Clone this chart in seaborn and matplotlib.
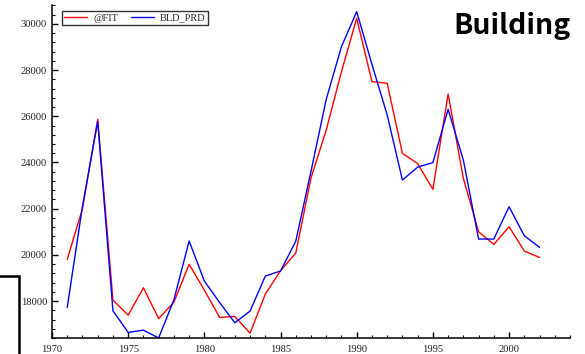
import matplotlib
matplotlib.use("Agg")
import matplotlib.pyplot as plt
from matplotlib.patches import Rectangle
from matplotlib.ticker import MultipleLocator
import seaborn as sns
import pandas as pd

years = list(range(1971, 2003))
fit = [19805, 22000, 25870, 18040, 17390, 18575, 17240, 17950, 19590, 18475,
       17290, 17335, 16610, 18300, 19310, 20080, 23330, 25407, 27933, 30245,
       27500, 27430, 24400, 23950, 22838, 26967, 23315, 21000, 20454, 21220,
       20165, 19890]
bld_prd = [17725, 22100, 25770, 17580, 16640, 16740, 16400, 18050, 20600, 18865,
           17940, 17060, 17565, 19080, 19300, 20590, 23620, 26737, 29018, 30534,
           28250, 26060, 23240, 23800, 23995, 26304, 24107, 20685, 20685, 22085,
           20830, 20325]

series_names = ["@FIT", "BLD_PRD"]
series_colors = ["#ff0000", "#0000ff"]

df = pd.DataFrame({
    "year": years * 2,
    "value": fit + bld_prd,
    "series": [series_names[0]] * len(years) + [series_names[1]] * len(years),
})

sns.set_theme(style="ticks")
plt.rcParams["font.family"] = ["Liberation Serif", "DejaVu Serif"]

fig = plt.figure(figsize=(5.85, 3.54), dpi=100)
ax = fig.add_axes([52 / 585, (354 - 338) / 354, 518 / 585, 333 / 354])

sns.lineplot(data=df, x="year", y="value", hue="series",
             palette=dict(zip(series_names, series_colors)),
             linewidth=1.0, ax=ax, legend=True)

ax.set_xlim(1970, 2004)
ax.set_ylim(16400, 30820)
ax.xaxis.set_major_locator(MultipleLocator(5))
ax.xaxis.set_minor_locator(MultipleLocator(1))
ax.yaxis.set_major_locator(MultipleLocator(2000))
ax.yaxis.set_minor_locator(MultipleLocator(400))
ax.set_xlabel("")
ax.set_ylabel("")

for side in ("top", "right"):
    ax.spines[side].set_visible(False)
for side in ("left", "bottom"):
    ax.spines[side].set_color("black")
    ax.spines[side].set_linewidth(1.1)

ax.tick_params(which="major", direction="in", length=4, width=1.0,
               colors="black", labelsize=7.6, labelcolor="#222222")
ax.tick_params(axis="x", which="major", pad=5)
ax.tick_params(axis="y", which="major", pad=3.5)
ax.tick_params(which="minor", direction="in", length=2.5, width=0.8,
               colors="black")

leg = ax.legend(loc="upper left", bbox_to_anchor=(0.019, 0.983), ncol=2,
                fontsize=7.5, frameon=True, fancybox=False, borderpad=0.25,
                handlelength=2.2, handletextpad=0.6, columnspacing=1.2,
                borderaxespad=0)
leg.get_frame().set_edgecolor("black")
leg.get_frame().set_linewidth(1.0)
for line in leg.get_lines():
    line.set_linewidth(1.0)

fig.text(571 / 585, 1 - 33.5 / 354, "Building", ha="right", va="baseline",
         fontsize=20.5, fontweight="bold",
         family=["Noto Sans CJK JP", "DejaVu Sans"], color="black")

# frame edge of a neighbouring panel in the lower-left corner
fig.add_artist(Rectangle((-0.1, -0.1), 0.1 + 19 / 585, 0.1 + 78 / 354,
                         transform=fig.transFigure, fill=False,
                         edgecolor="black", linewidth=1.8, clip_on=False,
                         zorder=0))

fig.savefig("out.png", dpi=100)
